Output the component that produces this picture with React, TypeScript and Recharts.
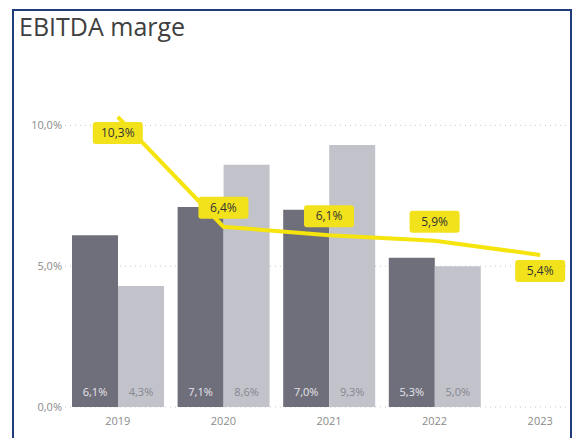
import React from "react";
import {
    ComposedChart,
    Bar,
    Line,
    XAxis,
    YAxis,
    CartesianGrid,
    LabelList,
} from "recharts";

const years = ["2019", "2020", "2021", "2022", "2023"];
const marginA = [6.1, 7.1, 7.0, 5.3, null];
const marginB = [4.3, 8.6, 9.3, 5.0, null];
const trend = [10.3, 6.4, 6.1, 5.9, 5.4];
const yTicks = [0, 5, 10];

const data = years.map((year, i) => ({
    year,
    a: marginA[i],
    b: marginB[i],
    trend: trend[i],
}));

const fmt = (v: number) => v.toFixed(1).replace(".", ",") + "%";

const FONT = "'Open Sans', 'Noto Sans', sans-serif";

const BarValue = (color: string) => (props: any) => {
    const { x, y, width, height, value } = props;
    if (value == null) return null;
    return (
        <text
            x={x + width / 2}
            y={y + height - 11}
            textAnchor="middle"
            fontSize={11}
            fontFamily={FONT}
            fill={color}
        >
            {fmt(value)}
        </text>
    );
};

const TrendLabel = (props: any) => {
    const { x, y, value, index } = props;
    const below = index === 0 || index === trend.length - 1;
    const w = 50;
    const h = 22;
    const top = below ? y + 5 : y - 8 - h;
    return (
        <g>
            <rect x={x - w / 2} y={top} width={w} height={h} rx={3} fill="#f2e21c" />
            <text
                x={x}
                y={top + h / 2 + 4}
                textAnchor="middle"
                fontSize={12}
                fontFamily={FONT}
                fill="#333"
            >
                {fmt(value)}
            </text>
        </g>
    );
};

export default function App() {
    return (
        <div
            style={{
                position: "absolute",
                left: 0,
                top: 0,
                width: 576,
                height: 438,
                overflow: "hidden",
                background: "#fff",
            }}
        >
            <div style={{ position: "absolute", left: 0, top: 0 }}>
                <ComposedChart
                    width={600}
                    height={438}
                    data={data}
                    barCategoryGap={7}
                    barGap={0}
                    margin={{ top: 69, right: 7, left: 5, bottom: 1 }}
                >
                    <CartesianGrid
                        vertical={false}
                        horizontalValues={yTicks}
                        stroke="#c8c8c8"
                        strokeDasharray="1 4"
                    />
                    <XAxis
                        dataKey="year"
                        axisLine={false}
                        tickLine={false}
                        tickSize={1}
                        tickMargin={9}
                        height={30}
                        tick={{ fill: "#8a8a8a", fontSize: 11, fontFamily: FONT }}
                    />
                    <YAxis
                        width={60}
                        domain={[0, 12]}
                        ticks={yTicks}
                        axisLine={false}
                        tickLine={false}
                        tickSize={1}
                        tickMargin={2}
                        tickFormatter={fmt}
                        tick={{ fill: "#8a8a8a", fontSize: 11, fontFamily: FONT }}
                    />
                    <Bar dataKey="a" fill="#6f6f7b" isAnimationActive={false}>
                        <LabelList dataKey="a" content={BarValue("#e6e6ec")} />
                    </Bar>
                    <Bar dataKey="b" fill="#c2c2ca" isAnimationActive={false}>
                        <LabelList dataKey="b" content={BarValue("#85858f")} />
                    </Bar>
                    <Line
                        type="linear"
                        dataKey="trend"
                        stroke="#f5e40e"
                        strokeWidth={4}
                        dot={false}
                        isAnimationActive={false}
                    >
                        <LabelList dataKey="trend" content={TrendLabel} />
                    </Line>
                </ComposedChart>
            </div>
            <div
                style={{
                    position: "absolute",
                    left: 572,
                    top: 0,
                    width: 10,
                    height: 438,
                    background: "#fff",
                }}
            />
            <div
                style={{
                    position: "absolute",
                    left: 12,
                    top: 9,
                    width: 556,
                    height: 460,
                    border: "2px solid #1f3d7c",
                    pointerEvents: "none",
                }}
            />
            <div
                style={{
                    position: "absolute",
                    left: 19,
                    top: 9,
                    fontFamily: FONT,
                    fontSize: 25,
                    color: "#404040",
                    lineHeight: "34px",
                }}
            >
                EBITDA marge
            </div>
        </div>
    );
}
